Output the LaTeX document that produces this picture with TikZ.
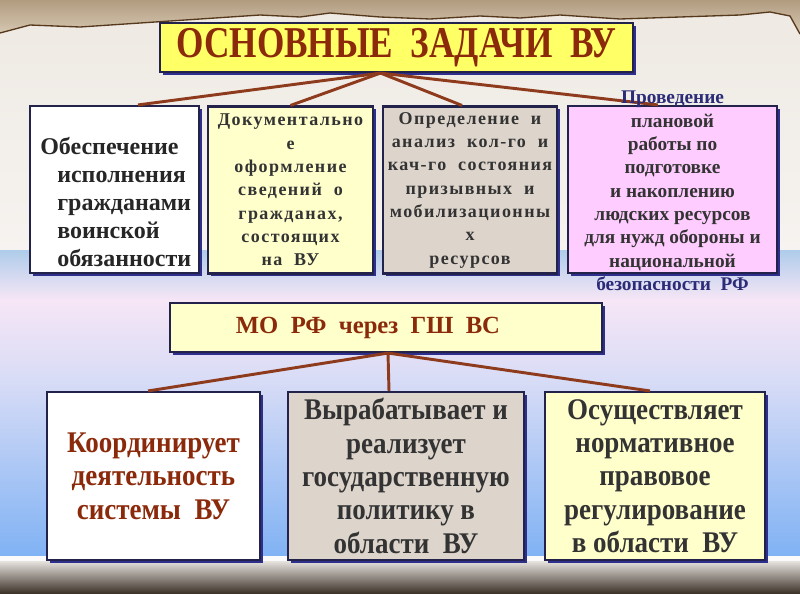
\documentclass[tikz,border=0pt]{standalone}
\usepackage{fontspec}
\setmainfont{Liberation Serif}
\newfontfamily\narrowfont[FakeStretch=0.8]{Liberation Serif}
\newfontfamily\condfont[FakeStretch=0.9]{Liberation Serif}
\newfontfamily\wideserif[LetterSpace=8]{Liberation Serif}
\usetikzlibrary{shadows}

\definecolor{framenavy}{HTML}{22224A}
\definecolor{shadowblue}{HTML}{2E2E8C}
\definecolor{titleyellow}{HTML}{FFFF66}
\definecolor{paleyellow}{HTML}{FFFFCC}
\definecolor{taupe}{HTML}{DDD5CC}
\definecolor{pinkbox}{HTML}{FFCCFF}
\definecolor{rustred}{HTML}{8B2A0A}
\definecolor{linkbrown}{HTML}{8E3A1C}
\definecolor{darktext}{HTML}{333333}
\definecolor{inknavy}{HTML}{2B2B78}
\definecolor{papertop}{HTML}{B29C80}
\definecolor{paperbot}{HTML}{D6C8B2}
\definecolor{creamtop}{HTML}{EEE9E2}
\definecolor{creambot}{HTML}{F6F3F0}
\definecolor{skylight}{HTML}{AFCCEA}
\definecolor{pinkmist}{HTML}{F6E6F6}
\definecolor{lavender}{HTML}{D8DCF6}
\definecolor{skydeep}{HTML}{80B2F4}
\definecolor{floortop}{HTML}{E6E2DE}
\definecolor{floorbot}{HTML}{3E342A}

\begin{document}
\begin{tikzpicture}[x=0.75pt, y=-0.75pt,
	box/.style={draw=framenavy, line width=1.6pt, inner sep=0pt,
		drop shadow={shadow xshift=2.2pt, shadow yshift=-2.2pt, fill=shadowblue, opacity=1}},
	link/.style={draw=linkbrown, line width=2.2pt},
	smalltxt/.style={text=darktext, align=center, inner sep=0pt, font=\wideserif\bfseries\fontsize{13.5}{17.5}\selectfont},
	bigtxt/.style={align=center, font=\condfont\bfseries\fontsize{22.5}{25}\selectfont}]
	\useasboundingbox (0,0) rectangle (800,593);
	% background
	\shade[top color=creamtop, bottom color=creambot] (0,0) rectangle (800,250);
	\shade[top color=skylight, bottom color=pinkmist] (0,250) rectangle (800,300);
	\shade[top color=pinkmist, bottom color=lavender] (0,300) rectangle (800,380);
	\shade[top color=lavender, bottom color=skydeep] (0,380) rectangle (800,556);
	\fill[white!96!gray] (0,556) rectangle (800,561);
	\shade[top color=floortop, bottom color=floorbot] (0,561) rectangle (800,593);
	% torn paper
	\shade[top color=papertop, bottom color=paperbot] (0,0) -- (800,0) -- (800,34) -- (790,16) -- (770,12) -- (740,15) -- (680,17)
		-- (620,19) -- (560,15) -- (520,18) -- (480,16) -- (430,19) -- (380,17) -- (330,13) -- (300,17) -- (260,15)
		-- (200,19) -- (140,23) -- (80,27) -- (30,25) -- (0,33) -- cycle;
	\draw[black!55!brown, line width=1pt] (0,33) -- (30,25) -- (80,27) -- (140,23) -- (200,19) -- (260,15) -- (300,17)
		-- (330,13) -- (380,17) -- (430,19) -- (480,16) -- (520,18) -- (560,15) -- (620,19) -- (680,17) -- (740,15)
		-- (770,12) -- (790,16) -- (800,34);

	% boxes
	\node[box, fill=titleyellow, minimum width=354.75pt, minimum height=36.75pt, text=rustred,
		font=\narrowfont\bfseries\fontsize{33}{36}\selectfont] (zadachi) at (396.5,47.5) {ОСНОВНЫЕ\ \ ЗАДАЧИ\ \ ВУ};
	\node[box, fill=white, minimum width=126.75pt, minimum height=125.25pt] (obesp) at (114.5,189.5) {};
	\node[box, fill=paleyellow, minimum width=123.75pt, minimum height=125.25pt, smalltxt] (dokum) at (290.5,190)
		{Документально\\е\\оформление\\сведений\ \ о\\гражданах,\\состоящих\\на\ \ ВУ};
	\node[box, fill=taupe, minimum width=130.5pt, minimum height=125.25pt, smalltxt] (opred) at (470,190)
		{Определение\ \ и\\анализ\ \ кол-го\ \ и\\кач-го\ \ состояния\\призывных\ \ и\\мобилизационны\\х\\ресурсов};
	\node[box, fill=pinkbox, minimum width=156.75pt, minimum height=125.25pt] (provel) at (672.5,189.5) {};

	\node[box, fill=paleyellow, minimum width=324pt, minimum height=36.75pt, text=rustred,
		font=\bfseries\fontsize{18.5}{20}\selectfont] (mo) at (386,327.5) {МО\ \ РФ\ \ через\ \ ГШ\ \ ВС\hspace*{27pt}};

	\node[box, fill=white, minimum width=159.75pt, minimum height=126pt, bigtxt, text=rustred] (koord) at (153.5,476)
		{Координирует\\деятельность\\системы\ \ ВУ};
	\node[box, fill=taupe, minimum width=177pt, minimum height=126pt, bigtxt, text=darktext] (vyrab) at (406,476)
		{Вырабатывает и\\реализует\\государственную\\политику в\\области\ \ ВУ};
	\node[box, fill=paleyellow, minimum width=165pt, minimum height=126pt, bigtxt, text=darktext] (osush) at (655,476)
		{Осуществляет\\нормативное\\правовое\\регулирование\\в области\ \ ВУ};

	% connectors
	\draw[link] ([xshift=-12pt]zadachi.south) -- ([xshift=17.6pt]obesp.north);
	\draw[link] ([xshift=-12pt]zadachi.south) -- (dokum.north);
	\draw[link] ([xshift=-12pt]zadachi.south) -- ([xshift=-6pt]opred.north);
	\draw[link] ([xshift=-12pt]zadachi.south) -- ([xshift=-11pt]provel.north);
	\draw[link] ([xshift=1.5pt]mo.south) -- ([xshift=-4pt]koord.north);
	\draw[link] ([xshift=1.5pt]mo.south) -- ([xshift=-12.75pt]vyrab.north);
	\draw[link] ([xshift=1.5pt]mo.south) -- ([xshift=-3.75pt]osush.north);

	% texts over the boxes
	\node[anchor=west, align=left, inner sep=0pt, text=black!85,
		font=\bfseries\fontsize{18}{21}\selectfont] (obesptext) at (40,202)
		{Обеспечение\\\hspace*{12.75pt}исполнения\\\hspace*{12.75pt}гражданами\\\hspace*{12.75pt}воинской\\\hspace*{12.75pt}обязанности};
	\node[smalltxt, font=\bfseries\fontsize{14.5}{17.5}\selectfont] (proveltext) at (672.5,191)
		{\textcolor{inknavy}{Проведение}\\плановой\\работы по\\подготовке\\и накоплению\\людских ресурсов\\для нужд обороны и\\национальной\\\textcolor{inknavy}{безопасности\ \ РФ}};
\end{tikzpicture}
\end{document}
